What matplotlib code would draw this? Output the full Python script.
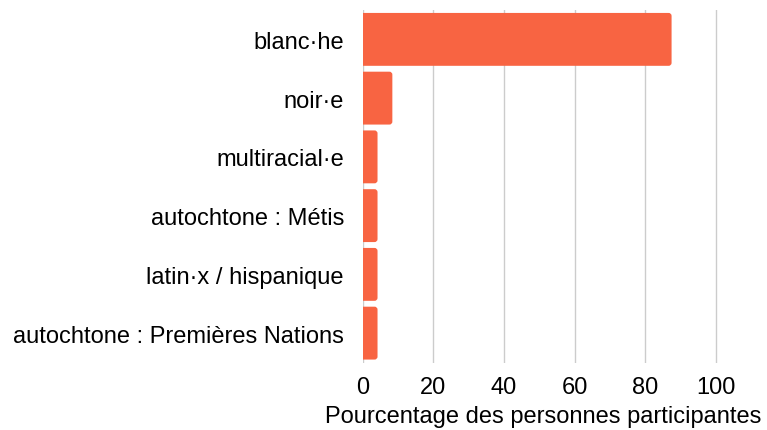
import matplotlib
matplotlib.use("Agg")
import matplotlib.pyplot as plt
from matplotlib.patches import FancyBboxPatch

categories = ["blanc·he", "noir·e", "multiracial·e", "autochtone : Métis",
              "latin·x / hispanique", "autochtone : Premières Nations"]
values = [87.5, 8.4, 4.2, 4.2, 4.2, 4.2]
xticks = [0, 20, 40, 60, 80, 100]
xlabel = "Pourcentage des personnes participantes"
color = "#F86442"

plt.rcParams['font.family'] = ['Liberation Sans', 'DejaVu Sans']

W, H = 767, 431
fig = plt.figure(figsize=(W/100, H/100), dpi=100)
left, right, top, bottom = 362.7, 724.3, 11, 363.5
ax = fig.add_axes([left/W, 1-bottom/H, (right-left)/W, (bottom-top)/H])

ypos = list(range(len(categories)))
bars = ax.barh(ypos, values, height=0.9, color=color, zorder=3)
ax.set_ylim(len(categories)-0.5, -0.5)
px_per_unit = (715.7-362.7)/100
ax.set_xlim(0, (right-left)/px_per_unit)

# rounded corners: replace rectangles with rounded boxes from bar geometry
x_per_px = 1/px_per_unit
y_per_px = len(categories)/(bottom-top)
r_px = 3.0
for b in bars:
    x0, y0, w, h = b.get_x(), b.get_y(), b.get_width(), b.get_height()
    b.set_visible(False)
    p = FancyBboxPatch((x0 - r_px*x_per_px*2, y0), w + r_px*x_per_px*2, h,
                       boxstyle=f"round,pad=0,rounding_size={r_px*x_per_px}",
                       mutation_aspect=y_per_px/x_per_px,
                       fc=color, ec='none', zorder=3, clip_on=True)
    ax.add_patch(p)

ax.set_yticks(ypos)
ax.set_yticklabels(categories, fontsize=17)
ax.set_xticks(xticks)
ax.set_xticklabels([str(t) for t in xticks], fontsize=17)
ax.set_xlabel(xlabel, fontsize=17, labelpad=5)
ax.tick_params(axis='x', length=0, pad=10)
ax.tick_params(axis='y', length=0, pad=13.5)
ax.grid(axis='x', color='#cccccc', linewidth=1, zorder=0)
for s in ax.spines.values():
    s.set_visible(False)

fig.savefig("out.png", dpi=100)
